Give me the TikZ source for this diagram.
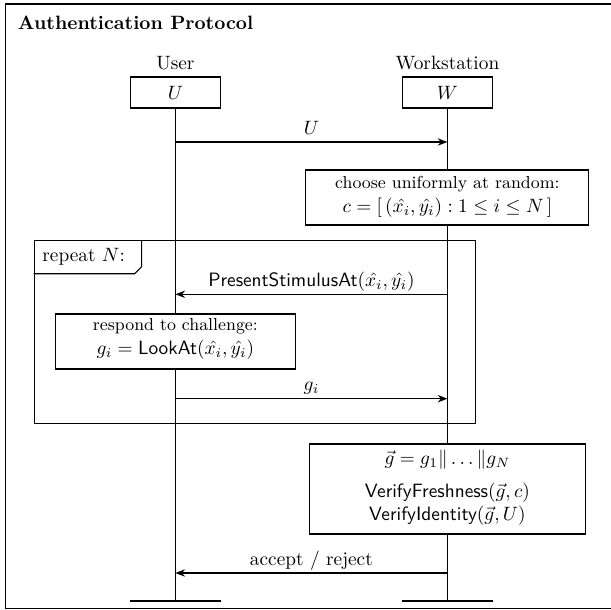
\documentclass[tikz,border=0pt]{standalone}
\usetikzlibrary{calc,arrows.meta}
\begin{document}
\begin{tikzpicture}[x=0.518pt,y=-0.518pt,
  box/.style={draw, fill=white, line width=0.6pt, inner sep=0pt},
  txt/.style={anchor=base, inner sep=0pt},
  lbl/.style={anchor=base, yshift=4pt, inner sep=0pt},
  msg/.style={-{Stealth[length=5pt, width=3.8pt, inset=1.6pt]}, line width=0.6pt},
  lifeline/.style={line width=0.6pt},
  endbar/.style={line width=1.5pt},
  loopframe/.style={draw, line width=0.6pt, inner sep=0pt},
]
\useasboundingbox (0,0) rectangle (611,610);
% outer frame
\draw[line width=0.7pt] (5.8,4) rectangle (640,608.6);
\node[anchor=base west, inner sep=0pt, font=\bfseries] (title) at (17.5,30) {Authentication Protocol};

% actors
\node[txt] (userlbl) at (175.4,70) {User};
\node[txt] (wslbl) at (447.4,70) {Workstation};
\coordinate (uend) at (175.4,601);
\coordinate (wend) at (447.4,601);
\node[box, minimum width=46.8pt, minimum height=16.1pt] (ubox) at (175.4,92.5) {$U$};
\node[box, minimum width=46.8pt, minimum height=16.1pt] (wbox) at (447.4,92.5) {$W$};

% lifelines
\draw[lifeline] (ubox.south) -- (uend);
\draw[lifeline] (wbox.south) -- (wend);

% end bars
\coordinate (ub1) at (129.8,601); \coordinate (ub2) at (220.6,601);
\coordinate (wb1) at (402.0,601); \coordinate (wb2) at (492.8,601);
\draw[endbar] (ub1) -- (ub2);
\draw[endbar] (wb1) -- (wb2);

% message 1
\coordinate (u1) at (175.4,142); \coordinate (w1) at (447.4,142);
\draw[msg] (u1) -- node[lbl] (m1) {$U$} (w1);

% choose box
\node[box, minimum width=146.6pt, minimum height=28.5pt] (choose) at (447.4,197.5) {};
\node[txt, font=\small] (chooseA) at (447.4,188.3) {choose uniformly at random:};
\node[txt] (chooseB) at (447.4,212.5) {$c = [\,(\hat{x_i},\hat{y_i}) : 1 \le i \le N\,]$};

% repeat frame
\node[loopframe, minimum width=228.5pt, minimum height=94.8pt] (loop) at (254.85,332.2) {};
\draw[line width=0.6pt] (loop.north west) ++(0,33.6) -- ++(100.9,0) -- ++(7,-7) -- ++(0,-26.6);
\node[anchor=west, inner sep=0pt] (looplbl) at (42,257) {repeat $N$:};

% message 2
\coordinate (u2) at (175.4,294.3); \coordinate (w2) at (447.4,294.3);
\draw[msg] (w2) -- node[lbl] (m2) {$\textsf{PresentStimulusAt}(\hat{x_i},\hat{y_i})$} (u2);

% respond box
\node[box, minimum width=124.5pt, minimum height=28.5pt] (respond) at (175.4,341.5) {};
\node[txt, font=\small] (respondA) at (175.4,330.7) {respond to challenge:};
\node[txt] (respondB) at (175.4,355) {$g_i = \textsf{LookAt}(\hat{x_i},\hat{y_i})$};

% message 3
\coordinate (u3) at (175.4,398.7); \coordinate (w3) at (447.4,398.7);
\draw[msg] (u3) -- node[lbl] (m3) {$g_i$} (w3);

% verify box
\node[box, minimum width=143.3pt, minimum height=46.6pt] (verify) at (447.4,489) {};
\node[txt] (verifyA) at (447.4,465) {$\vec{g} = g_1 \| \ldots \| g_N$};
\node[txt] (verifyB) at (447.4,497.5) {$\textsf{VerifyFreshness}(\vec{g},c)$};
\node[txt] (verifyC) at (447.4,521) {$\textsf{VerifyIdentity}(\vec{g},U)$};

% message 4
\coordinate (u4) at (175.4,573); \coordinate (w4) at (447.4,573);
\draw[msg] (w4) -- node[lbl] (m4) {accept / reject} (u4);
\end{tikzpicture}
\end{document}
